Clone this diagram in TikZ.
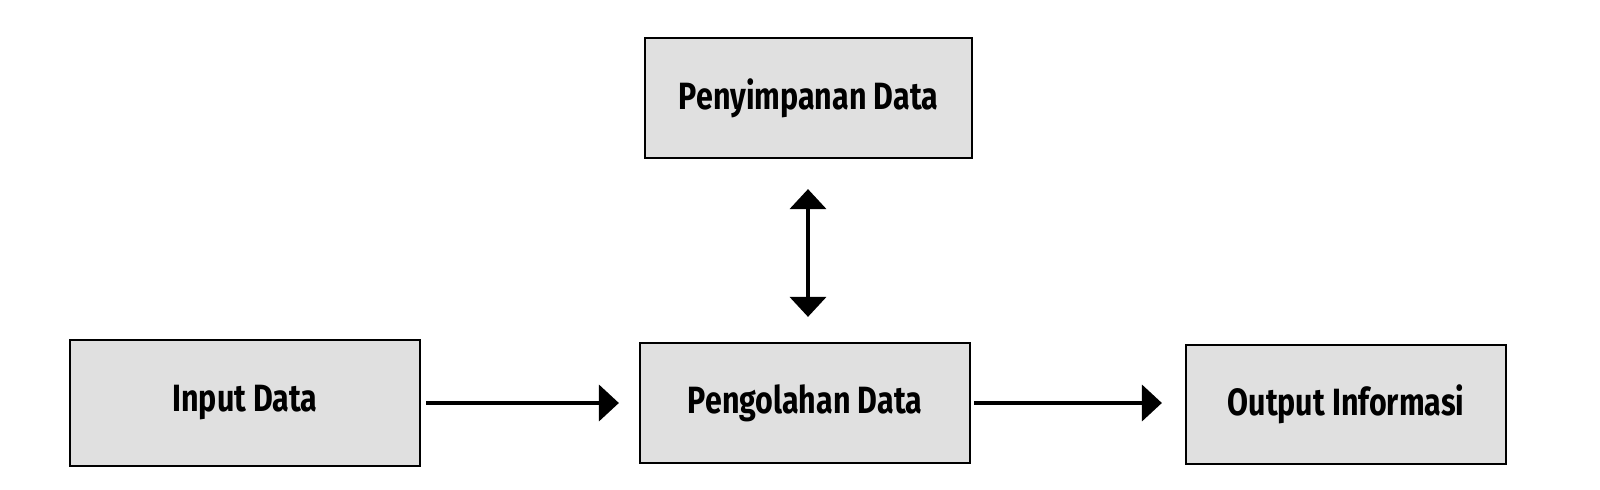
\documentclass[tikz,border=0pt]{standalone}
\usepackage{fontspec}
\newfontfamily\lblfont[FakeStretch=0.8]{Fira Sans}
\usetikzlibrary{arrows.meta}
\definecolor{boxfill}{gray}{0.88}
\begin{document}
\begin{tikzpicture}[x=0.5pt,y=-0.5pt,
  procbox/.style={draw=black,line width=1.1pt,fill=boxfill,inner sep=0pt,
    font=\lblfont\bfseries\fontsize{19}{22}\selectfont},
  flow/.style={line width=2pt,-{Triangle[length=10pt,width=18pt]}},
  bothflow/.style={line width=2pt,{Triangle[length=10pt,width=18pt]}-{Triangle[length=10pt,width=18pt]}}]
\useasboundingbox (0,0) rectangle (1600,490);
\node[procbox,minimum width=163.5pt,minimum height=60pt] (store) at (808.5,98) {Penyimpanan Data};
\node[procbox,minimum width=175pt,minimum height=63pt] (input) at (245,403) {Input Data};
\node[procbox,minimum width=165pt,minimum height=60pt] (proc) at (805,403) {Pengolahan Data};
\node[procbox,minimum width=160pt,minimum height=59.5pt] (output) at (1346,404.5) {Output Informasi};
\draw[flow,shorten <=2.5pt,shorten >=10pt] (input.east) -- (input.east -| proc.west);
\draw[flow,shorten <=1.5pt,shorten >=11.5pt] (proc.east) -- (proc.east -| output.west);
\draw[bothflow,shorten <=15pt,shorten >=12.5pt] (store.south -| 808,0) -- (proc.north -| 808,0);
\end{tikzpicture}
\end{document}
